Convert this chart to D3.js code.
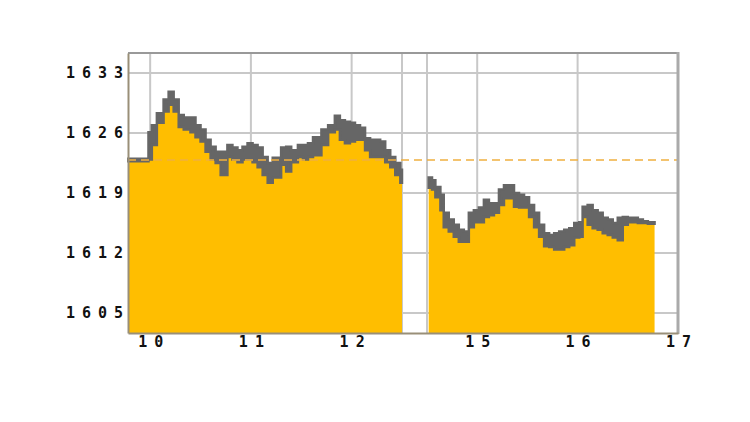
<!DOCTYPE html>
<html>
<head>
<meta charset="utf-8">
<script src="https://cdn.jsdelivr.net/npm/d3@7"></script>
<style>
  body { margin: 0; background: #fff; }
  .tick text { font-family: "DejaVu Sans Mono", monospace; font-size: 15px; font-weight: bold; fill: #111; letter-spacing: 7px; }
</style>
</head>
<body>
<div id="vis"></div>
<script>
const W = 750, H = 422;
const margin = {top: 53, right: 72, bottom: 89, left: 128};
const width = W - margin.left - margin.right;
const height = H - margin.top - margin.bottom;

// tick labels
const yTicks = [1605, 1612, 1619, 1626, 1633];
const xTicks = [10, 11, 12, 15, 16, 17];
const prevClose = 1622.85;

// morning session (bucket start times, high / low)
const amTimes = ['09:47','09:57','09:59','10:01','10:04','10:08','10:11','10:14','10:17','10:20',
  '10:24','10:27','10:30','10:33','10:36','10:39','10:42','10:46','10:49','10:52',
  '10:55','10:58','11:01','11:04','11:07','11:10','11:13','11:18','11:21','11:24',
  '11:28','11:31','11:34','11:37','11:42','11:46','11:50','11:53','11:56','11:59',
  '12:02','12:05','12:08','12:11','12:14','12:17','12:20','12:23','12:26','12:29'];
const amHigh = [1623.0,1623.0,1626.1,1626.9,1628.3,1629.9,1630.8,1629.9,1628.1,1627.8,
  1627.8,1626.9,1626.4,1625.2,1624.4,1623.8,1623.8,1624.6,1624.3,1624.0,
  1624.4,1624.8,1624.6,1624.3,1623.2,1622.5,1623.1,1624.3,1624.4,1624.0,
  1624.6,1624.6,1624.8,1625.5,1626.4,1626.9,1628.0,1627.5,1627.3,1627.2,
  1626.9,1626.6,1625.4,1625.2,1625.2,1625.0,1624.0,1623.2,1622.5,1621.7];
const amLow = [1622.7,1622.7,1622.9,1624.6,1627.2,1628.5,1629.3,1628.5,1626.7,1626.4,
  1626.1,1625.5,1625.0,1623.8,1622.9,1622.5,1621.1,1623.2,1622.9,1622.6,
  1622.9,1622.9,1622.6,1622.0,1621.1,1620.2,1620.8,1622.3,1621.5,1622.6,
  1623.2,1622.9,1623.2,1623.4,1624.6,1626.1,1626.4,1625.2,1624.8,1625.0,
  1625.2,1625.2,1624.0,1623.2,1623.2,1623.2,1622.6,1622.0,1621.1,1620.2];
const amEnd = '12:30';

// afternoon session
const pmTimes = ['14:31','14:33','14:35','14:38','14:40','14:43','14:46','14:49','14:52','14:55',
  '14:58','15:01','15:04','15:07','15:10','15:13','15:16','15:19','15:22','15:25',
  '15:28','15:31','15:34','15:37','15:40','15:43','15:46','15:49','15:52','15:55',
  '15:58','16:01','16:03','16:06','16:09','16:12','16:15','16:18','16:21','16:24',
  '16:27','16:30','16:33','16:36','16:39','16:42'];
const pmHigh = [1620.8,1620.5,1619.7,1618.8,1616.7,1615.9,1615.3,1614.7,1614.5,1616.7,
  1617.0,1617.3,1618.2,1617.8,1617.8,1619.4,1619.9,1619.9,1619.0,1618.8,
  1618.5,1617.6,1616.7,1615.3,1614.3,1614.1,1614.3,1614.5,1614.7,1614.9,
  1615.5,1615.6,1617.4,1617.6,1617.0,1616.7,1616.1,1615.9,1615.5,1616.1,
  1616.2,1616.1,1616.1,1615.9,1615.7,1615.6];
const pmLow = [1619.6,1619.4,1618.5,1617.0,1615.0,1614.5,1613.9,1613.3,1613.3,1615.0,
  1615.6,1615.6,1616.2,1616.4,1616.7,1617.6,1618.4,1618.4,1617.4,1617.3,
  1617.3,1616.2,1615.0,1613.9,1612.8,1612.7,1612.4,1612.4,1612.7,1612.9,
  1613.8,1613.9,1616.2,1615.3,1614.9,1614.7,1614.3,1614.1,1613.8,1613.5,
  1615.3,1615.6,1615.6,1615.5,1615.5,1615.4];
const pmEnd = '16:46';

const toHour = s => { const [h, m] = s.split(':').map(Number); return h + m / 60; };

function session(times, high, low, end) {
  const rows = times.map((t, i) => ({t: toHour(t), high: high[i], low: low[i]}));
  const last = rows[rows.length - 1];
  rows.push({t: toHour(end), high: last.high, low: last.low});
  return rows;
}
const sessions = [session(amTimes, amHigh, amLow, amEnd), session(pmTimes, pmHigh, pmLow, pmEnd)];

const svg = d3.select('#vis')
  .append('svg')
  .attr('width', W)
  .attr('height', H)
  .append('g')
  .attr('transform', `translate(${margin.left},${margin.top})`);

// lunch break squeezed into a narrow strip
const xScale = d3.scaleLinear()
  .domain([9.78, 12.5, 14.5, 17])
  .range([0, 274, 299, width]);

const yScale = d3.scaleLinear()
  .domain([1602.67, 1635.33])
  .range([height, 0]);

// grid
svg.append('g')
  .selectAll('line')
  .data(yTicks)
  .join('line')
  .attr('x1', 0).attr('x2', width)
  .attr('y1', d => yScale(d)).attr('y2', d => yScale(d))
  .attr('stroke', '#c8c8c8').attr('stroke-width', 2);

svg.append('g')
  .selectAll('line')
  .data([10, 11, 12, 12.5, 14.5, 15, 16])
  .join('line')
  .attr('x1', d => xScale(d)).attr('x2', d => xScale(d))
  .attr('y1', 0).attr('y2', height)
  .attr('stroke', '#c8c8c8').attr('stroke-width', 2);

// price band (high/low) and fill
const fill = d3.area()
  .x(d => xScale(d.t))
  .y0(height)
  .y1(d => yScale(d.low))
  .curve(d3.curveStepAfter);

const band = d3.area()
  .x(d => xScale(d.t))
  .y0(d => yScale(d.low))
  .y1(d => yScale(d.high))
  .curve(d3.curveStepAfter);

svg.selectAll('.fill')
  .data(sessions)
  .join('path')
  .attr('class', 'fill')
  .attr('d', fill)
  .attr('fill', '#ffbe00');

svg.selectAll('.band')
  .data(sessions)
  .join('path')
  .attr('class', 'band')
  .attr('d', band)
  .attr('fill', '#666')
  .attr('stroke', '#666')
  .attr('stroke-width', 2.5);

// previous close
svg.append('line')
  .attr('x1', 0).attr('x2', width)
  .attr('y1', yScale(prevClose)).attr('y2', yScale(prevClose))
  .attr('stroke', '#f0b040')
  .attr('stroke-width', 1.5)
  .attr('stroke-dasharray', '8,5');

// frame
svg.append('line').attr('x1', 0).attr('x2', width).attr('y1', 0).attr('y2', 0)
  .attr('stroke', '#999').attr('stroke-width', 2);
svg.append('line').attr('x1', width).attr('x2', width).attr('y1', -1).attr('y2', height + 1)
  .attr('stroke', '#aaa').attr('stroke-width', 3);

// axes
const yAxis = d3.axisLeft(yScale).tickValues(yTicks).tickFormat(d3.format('d')).tickSize(0).tickPadding(0);
svg.append('g')
  .attr('class', 'y-axis')
  .call(yAxis)
  .call(g => g.select('.domain').attr('stroke', '#998f78').attr('stroke-width', 2))
  .call(g => g.selectAll('text').attr('x', 2));

const xAxis = d3.axisBottom(xScale).tickValues(xTicks).tickFormat(d3.format('d')).tickSize(0).tickPadding(0);
svg.append('g')
  .attr('transform', `translate(0,${height})`)
  .call(xAxis)
  .call(g => g.select('.domain').attr('stroke', '#998f78').attr('stroke-width', 2))
  .call(g => g.selectAll('text').attr('y', 3).attr('dx', '3.5px'));
</script>
</body>
</html>
